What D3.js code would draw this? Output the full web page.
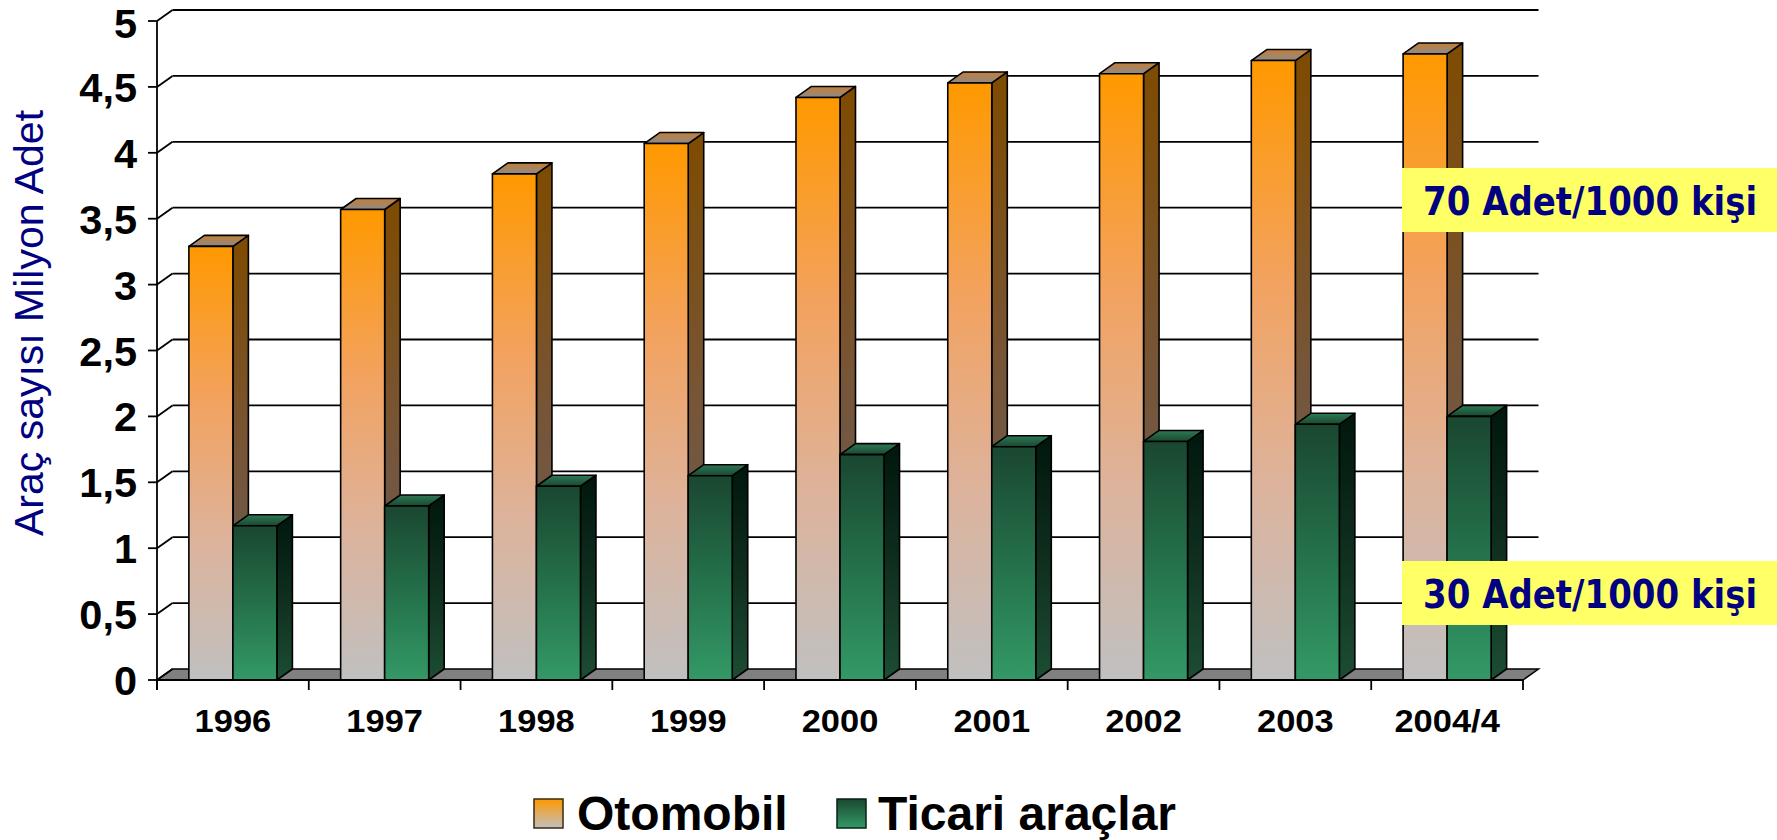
<!DOCTYPE html>
<html>
<head>
<meta charset="utf-8">
<script src="https://cdn.jsdelivr.net/npm/d3@7"></script>
<style>
  html, body { margin: 0; padding: 0; background: #fff; }
  svg { display: block; }
</style>
</head>
<body>
<svg id="chart" width="1777" height="840"></svg>
<script>
// ---- data ----
const categories = ["1996", "1997", "1998", "1999", "2000", "2001", "2002", "2003", "2004/4"];
const otomobil = [3.29, 3.57, 3.84, 4.07, 4.42, 4.53, 4.60, 4.70, 4.75];
const ticari   = [1.17, 1.32, 1.47, 1.55, 1.71, 1.77, 1.81, 1.94, 2.00];
const yTicks = [0, 0.5, 1, 1.5, 2, 2.5, 3, 3.5, 4, 4.5, 5];
const yTickLabels = ["0", "0,5", "1", "1,5", "2", "2,5", "3", "3,5", "4", "4,5", "5"];
const seriesNames = ["Otomobil", "Ticari araçlar"];
const yTitle = "Araç sayısı Milyon Adet";
const notes = ["70 Adet/1000 kişi", "30 Adet/1000 kişi"];

// ---- layout ----
const svg = d3.select("#chart");
const pL = 157, pR = 1523, pB = 680, pT = 21;
const DX = 15.5, DY = -11;   // 3D depth offset

const x = d3.scaleBand().domain(categories).range([pL, pR]).padding(0);
const y = d3.scaleLinear().domain([0, 5]).range([pB, pT]);
const bw = x.bandwidth();
const barOff = bw * 0.21, barW = bw * 0.29;

// ---- gradients ----
const defs = svg.append("defs");
function grad(id, stops, x2 = 0, y2 = 1) {
  const g = defs.append("linearGradient").attr("id", id)
    .attr("x1", 0).attr("y1", 0).attr("x2", x2).attr("y2", y2);
  stops.forEach(([o, c]) => g.append("stop").attr("offset", o).attr("stop-color", c));
}
grad("oFront", [[0, "#FF9900"], [0.35, "#F3A25E"], [0.68, "#DDB39C"], [1, "#C0C0C0"]]);
grad("oSide",  [[0, "#7E4B00"], [0.5, "#775538"], [1, "#606060"]]);
grad("oTop",   [[0, "#C47E36"], [1, "#8E8A88"]]);
grad("gFront", [[0, "#1A4730"], [0.5, "#24704A"], [1, "#339966"]]);
grad("gSide",  [[0, "#00170D"], [0.5, "#0F2E1E"], [1, "#1C4D33"]]);
grad("gTop",   [[0, "#2E7A55"], [1, "#1A4730"]]);
grad("oLeg",   [[0, "#FF9900"], [1, "#C0C0C0"]]);
grad("gLeg",   [[0, "#1A4730"], [1, "#339966"]]);

// ---- floor ----
const floorPts = [[pL, pB], [pR, pB], [pR + DX, pB + DY], [pL + DX, pB + DY]];
svg.append("polygon").attr("points", floorPts.map(p => p.join(",")).join(" "))
  .attr("fill", "#808080").attr("stroke", "#000").attr("stroke-width", 1.5);

// ---- gridlines on back wall + left wall diagonals ----
const grid = svg.append("g").attr("stroke", "#000").attr("stroke-width", 1.8).attr("fill", "none");
yTicks.forEach(v => {
  if (v > 0) {
    grid.append("line").attr("x1", pL + DX).attr("x2", pR + DX)
      .attr("y1", y(v) + DY).attr("y2", y(v) + DY);
  }
  grid.append("line").attr("x1", pL).attr("y1", y(v))
    .attr("x2", pL + DX).attr("y2", y(v) + DY);
});

// ---- bars ----
function drawBars(values, idx, front, side, topG) {
  const g = svg.append("g").attr("stroke", "#000").attr("stroke-width", 1.6).attr("stroke-linejoin", "round");
  categories.forEach((c, i) => {
    const x0 = x(c) + barOff + idx * barW;
    const x1 = x0 + barW;
    const yt = y(values[i]);
    const yb = y(0);
    g.append("polygon")
      .attr("points", [[x1, yt], [x1 + DX, yt + DY], [x1 + DX, yb + DY], [x1, yb]].map(p => p.join(",")).join(" "))
      .attr("fill", `url(#${side})`);
    g.append("polygon")
      .attr("points", [[x0, yt], [x0 + DX, yt + DY], [x1 + DX, yt + DY], [x1, yt]].map(p => p.join(",")).join(" "))
      .attr("fill", `url(#${topG})`);
    g.append("rect").attr("x", x0).attr("y", yt).attr("width", barW).attr("height", yb - yt)
      .attr("fill", `url(#${front})`);
  });
}
drawBars(otomobil, 0, "oFront", "oSide", "oTop");
drawBars(ticari, 1, "gFront", "gSide", "gTop");

// ---- axes ----
const axG = svg.append("g").attr("stroke", "#000").attr("stroke-width", 1.8);
axG.append("line").attr("x1", pL).attr("x2", pL).attr("y1", pT).attr("y2", pB + 10);
axG.append("line").attr("x1", pL).attr("x2", pR).attr("y1", pB).attr("y2", pB);
yTicks.forEach(v => axG.append("line").attr("x1", pL - 9).attr("x2", pL).attr("y1", y(v)).attr("y2", y(v)));
d3.range(categories.length + 1).forEach(i => {
  const xx = pL + i * bw;
  axG.append("line").attr("x1", xx).attr("x2", xx).attr("y1", pB).attr("y2", pB + 10);
});

// y tick labels
svg.append("g").selectAll("text").data(yTicks).join("text")
  .attr("x", 137).attr("y", d => Math.max(y(d) + 15, 38))
  .attr("text-anchor", "end")
  .attr("font-family", "'Liberation Sans', Arial, sans-serif")
  .attr("font-weight", "bold").attr("font-size", 41.5).attr("fill", "#000")
  .text((d, i) => yTickLabels[i]);

// x labels
svg.append("g").selectAll("text").data(categories).join("text")
  .attr("transform", d => `translate(${x(d) + bw / 2},732) scale(1.13,1)`)
  .attr("text-anchor", "middle")
  .attr("font-family", "'Liberation Sans', Arial, sans-serif")
  .attr("font-weight", "bold").attr("font-size", 30.5).attr("fill", "#000")
  .text(d => d);

// y title
svg.append("text")
  .attr("transform", "translate(43,323) rotate(-90)")
  .attr("text-anchor", "middle")
  .attr("font-family", "'Liberation Sans', Arial, sans-serif")
  .attr("font-size", 41).attr("fill", "#000080")
  .text(yTitle);

// ---- annotation boxes ----
const noteBoxes = [{ y0: 168, base: 215 }, { y0: 561, base: 608 }];
noteBoxes.forEach((b, i) => {
  svg.append("rect").attr("x", 1402).attr("y", b.y0).attr("width", 375).attr("height", 64).attr("fill", "#FFFF66");
  svg.append("text").attr("transform", `translate(1423,${b.base}) scale(1,1.13)`)
    .attr("font-family", "'DejaVu Sans', Verdana, sans-serif")
    .attr("font-weight", "bold").attr("font-size", 34).attr("fill", "#000080")
    .text(notes[i]);
});

// ---- legend ----
const legend = [
  { sx: 534, tx: 577, fill: "url(#oLeg)", stroke: "#3A2A10" },
  { sx: 837, tx: 878, fill: "url(#gLeg)", stroke: "#0A2014" }
];
legend.forEach((l, i) => {
  svg.append("rect").attr("x", l.sx).attr("y", 799).attr("width", 29).attr("height", 29)
    .attr("fill", l.fill).attr("stroke", l.stroke).attr("stroke-width", 1.5);
  svg.append("text").attr("x", l.tx).attr("y", 830)
    .attr("font-family", "'Liberation Sans', Arial, sans-serif")
    .attr("font-weight", "bold").attr("font-size", 48).attr("fill", "#000")
    .text(seriesNames[i]);
});
</script>
</body>
</html>
